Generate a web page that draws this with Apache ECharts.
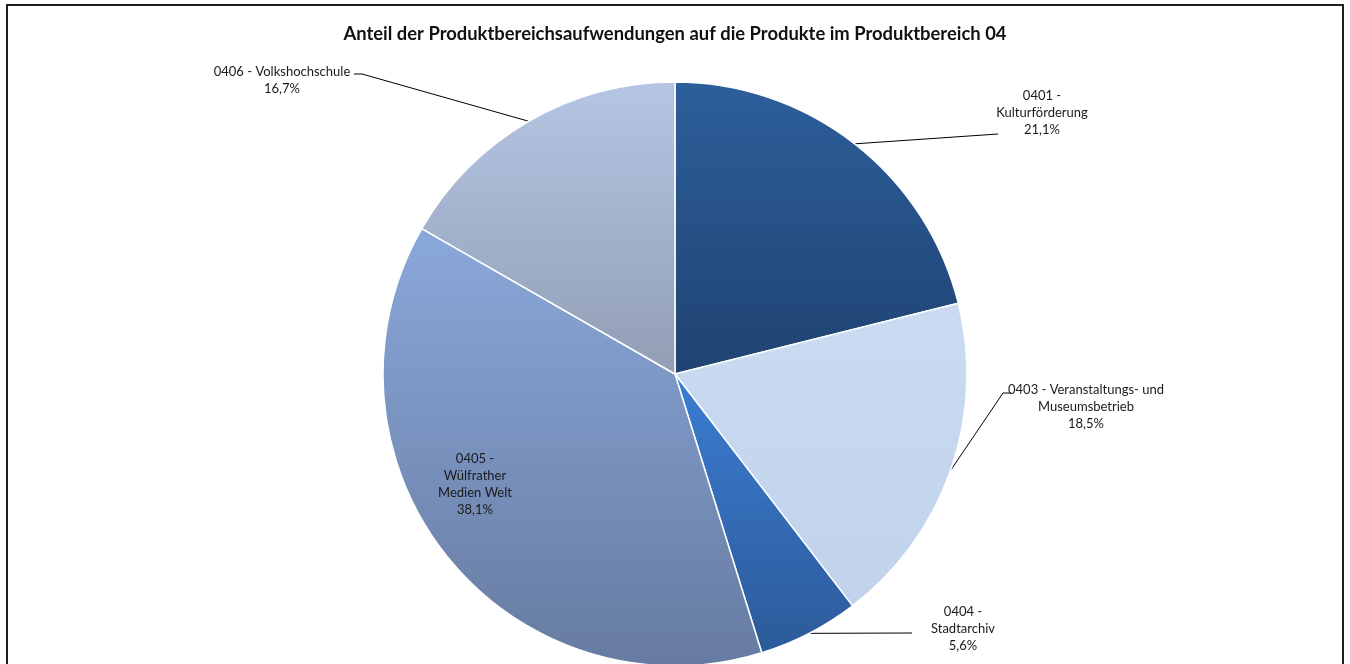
<!DOCTYPE html>
<html>
<head>
<meta charset="utf-8">
<script src="https://cdn.jsdelivr.net/npm/echarts@6/dist/echarts.min.js"></script>
<style>
  html, body { margin: 0; padding: 0; background: #fff; }
  #chart { width: 1350px; height: 664px; }
</style>
</head>
<body>
<div id="chart"></div>
<script>
// Product area 04: share of expenses per product (percent)
const titleText = 'Anteil der Produktbereichsaufwendungen auf die Produkte im Produktbereich 04';
const categories = [
  '0401 -\nKulturförderung',
  '0403 - Veranstaltungs- und\nMuseumsbetrieb',
  '0404 -\nStadtarchiv',
  '0405 -\nWülfrather\nMedien Welt',
  '0406 - Volkshochschule'
];
const shares = [21.1, 18.5, 5.6, 38.1, 16.7];

// vertical gradient per slice (top → bottom)
const topColors = ['#2d5f9b', '#c9daf1', '#3b7dd2', '#8aa8da', '#b5c5e3'];
const bottomColors = ['#1f4371', '#c1d3ec', '#2c5a99', '#677ba1', '#919eb4'];

// label centres and leader-line bends/ends (px)
const labelSpots = [
  { x: 1042, y: 113, line: [[998, 134]] },
  { x: 1086, y: 407, line: [[1003, 393], [1011, 393]] },
  { x: 963, y: 629, line: [[912, 633]] },
  { x: 475, y: 484, line: null },
  { x: 282, y: 80, line: [[362, 74], [354, 74]] }
];

const CX = 675, CY = 374, R = 292;

const chart = echarts.init(document.getElementById('chart'), null, { renderer: 'canvas' });

const data = categories.map((name, i) => ({
  name: name,
  value: shares[i],
  itemStyle: {
    color: new echarts.graphic.LinearGradient(0, 0, 0, 1, [
      { offset: 0, color: topColors[i] },
      { offset: 1, color: bottomColors[i] }
    ])
  },
  labelLine: { show: labelSpots[i].line !== null }
}));

function edgePoint(index) {
  // mid-angle of the slice on the outer rim, clockwise from 12 o'clock
  let before = 0;
  for (let k = 0; k < index; k++) before += shares[k];
  const total = shares.reduce((a, b) => a + b, 0);
  const ang = (before + shares[index] / 2) / total * Math.PI * 2;
  return [CX + R * Math.sin(ang), CY - R * Math.cos(ang)];
}

chart.setOption({
  animation: false,
  title: {
    text: titleText,
    left: 'center',
    top: 20,
    textStyle: { fontFamily: 'Lato', fontWeight: 'bold', fontSize: 18.4, color: '#111' }
  },
  graphic: [{
    type: 'rect',
    silent: true,
    shape: { x: 7, y: 5, width: 1336, height: 700 },
    style: { fill: 'none', stroke: '#1e1e1e', lineWidth: 2 }
  }],
  series: [{
    type: 'pie',
    center: [CX, CY],
    radius: R,
    startAngle: 90,
    clockwise: true,
    avoidLabelOverlap: false,
    itemStyle: { borderColor: '#ffffff', borderWidth: 1.5 },
    label: {
      show: true,
      position: 'outside',
      fontFamily: 'Lato',
      fontSize: 13,
      lineHeight: 17,
      color: '#1a1a1a',
      align: 'center',
      formatter: p => p.name + '\n' + p.value.toFixed(1).replace('.', ',') + '%'
    },
    labelLine: {
      show: true,
      lineStyle: { color: '#000', width: 1 }
    },
    labelLayout: function (params) {
      const spot = labelSpots[params.dataIndex];
      const out = { x: spot.x, y: spot.y, align: 'center', verticalAlign: 'middle' };
      if (spot.line) {
        const start = edgePoint(params.dataIndex);
        out.labelLinePoints = [start].concat(spot.line);
      }
      return out;
    },
    emphasis: { disabled: true },
    data: data
  }]
});
</script>
</body>
</html>
